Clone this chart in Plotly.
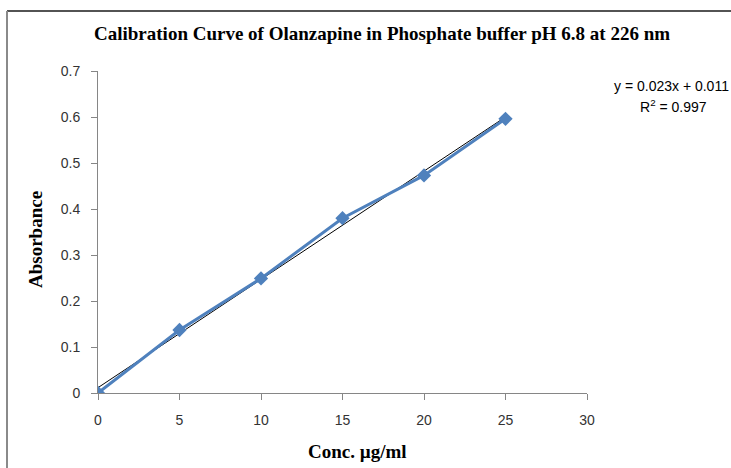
import numpy as np
import plotly.graph_objects as go

conc = [0, 5, 10, 15, 20, 25]
absorbance = [0.0, 0.137, 0.249, 0.380, 0.473, 0.596]
x_ticks = [0, 5, 10, 15, 20, 25, 30]
y_ticks = [0, 0.1, 0.2, 0.3, 0.4, 0.5, 0.6, 0.7]
y_tick_labels = ["0", "0.1", "0.2", "0.3", "0.4", "0.5", "0.6", "0.7"]

slope, intercept = np.polyfit(conc, absorbance, 1)
fit = [slope * c + intercept for c in conc]

W, H = 731, 468
L, R, T, B = 98, 587, 71, 393

fig = go.Figure()
fig.add_trace(go.Scatter(x=[conc[0], conc[-1]], y=[fit[0], fit[-1]], mode="lines",
                         line=dict(color="#000000", width=1), showlegend=False))
fig.add_trace(go.Scatter(x=conc, y=absorbance, mode="lines+markers",
                         line=dict(color="#4F81BD", width=3),
                         marker=dict(symbol="diamond", size=11, color="#4F81BD"),
                         showlegend=False))

tickfont = dict(family="Liberation Sans, Arial", size=14, color="#333333")
fig.update_xaxes(range=[0, 30], tickvals=x_ticks, ticks="outside", ticklen=6,
                 tickcolor="#868686", showline=True, linecolor="#868686", linewidth=1,
                 showgrid=False, zeroline=False, tickfont=tickfont, ticklabelstandoff=8)
fig.update_yaxes(range=[0, 0.7], tickvals=y_ticks, ticktext=y_tick_labels, ticks="outside",
                 ticklen=6, tickcolor="#868686", showline=True, linecolor="#868686",
                 linewidth=1, showgrid=False, zeroline=False, tickfont=tickfont,
                 ticklabelstandoff=8)

def px(xp):
    return (xp - L) / (R - L)

def py(yp):
    return (B - yp) / (B - T)

serif = "Liberation Serif, Times New Roman"
common = dict(xref="paper", yref="paper", showarrow=False, xanchor="center", yanchor="middle")
ann = [
    dict(text="<b>Calibration Curve of Olanzapine in Phosphate buffer pH 6.8 at 226 nm</b>",
         x=px(382), y=py(33), font=dict(family=serif, size=19, color="#000000"), **common),
    dict(text="<b>Absorbance</b>", x=px(35), y=py(240), textangle=-90,
         font=dict(family=serif, size=19, color="#000000"), **common),
    dict(text="<b>Conc. µg/ml</b>", x=px(357), y=py(451),
         font=dict(family=serif, size=19, color="#000000"), **common),
    dict(text="y = 0.023x + 0.011", x=px(671), y=py(86),
         font=dict(family="Liberation Sans, Arial", size=14, color="#000000"), **common),
    dict(text="R<sup>2</sup> = 0.997", x=px(673), y=py(106),
         font=dict(family="Liberation Sans, Arial", size=14, color="#000000"), **common),
]

fig.update_layout(
    width=W, height=H, autosize=False,
    margin=dict(l=L, r=W - R, t=T, b=H - B),
    paper_bgcolor="white", plot_bgcolor="white",
    annotations=ann,
    shapes=[
        dict(type="line", xref="paper", yref="paper",
             x0=px(7), x1=px(740), y0=py(11), y1=py(11),
             line=dict(color="#1a1a1a", width=1.5)),
        dict(type="line", xref="paper", yref="paper",
             x0=px(7), x1=px(7), y0=py(11), y1=py(480),
             line=dict(color="#8a8a8a", width=2)),
    ],
)

fig.write_html("out.html", config={"displayModeBar": False})
with open("out.html", "r", encoding="utf-8") as f:
    html = f.read()
html = html.replace("<body>", '<body style="margin:0;overflow:hidden">', 1)
with open("out.html", "w", encoding="utf-8") as f:
    f.write(html)
